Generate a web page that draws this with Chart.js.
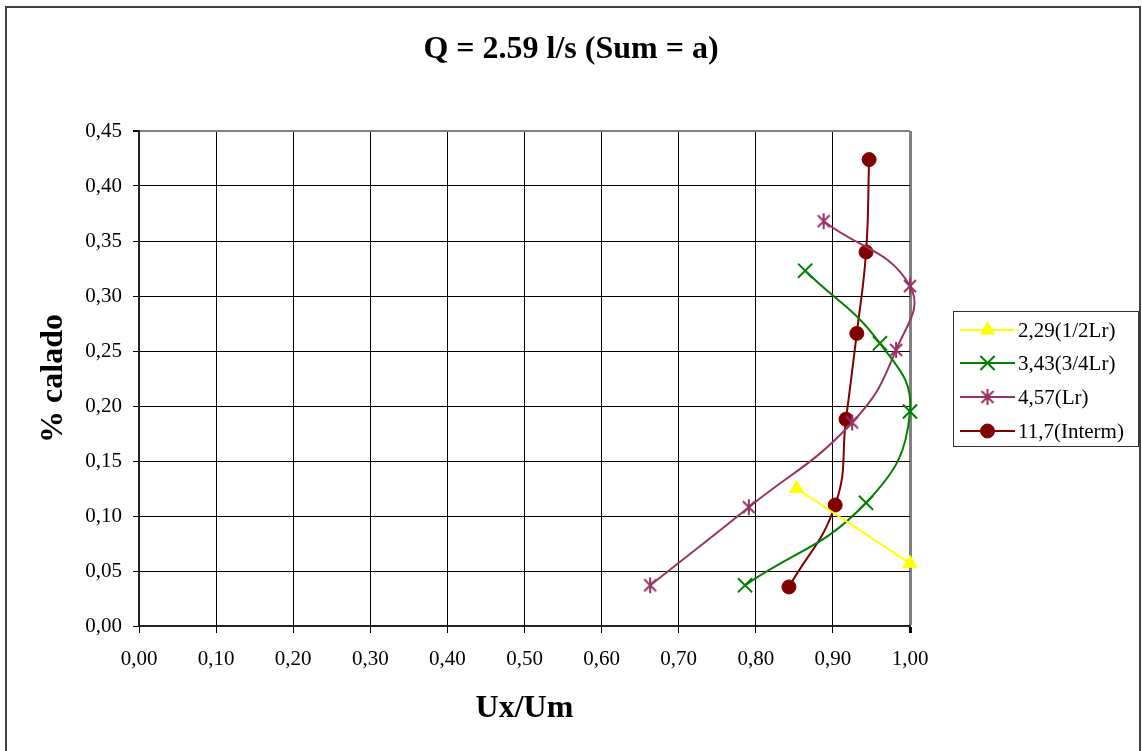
<!DOCTYPE html>
<html>
<head>
<meta charset="utf-8">
<script src="https://cdn.jsdelivr.net/npm/chart.js@4/dist/chart.umd.min.js"></script>
<style>
  body { margin: 0; background: #fff; }
  canvas { display: block; }
</style>
</head>
<body>
<canvas id="myChart" width="1142" height="751"></canvas>
<script>
// series (x = Ux/Um, y = % calado)
const seriesLabels = ['2,29(1/2Lr)', '3,43(3/4Lr)', '4,57(Lr)', '11,7(Interm)'];
const s1X = [0.853, 1.000];
const s1Y = [0.125, 0.057];
const s2X = [0.864, 0.961, 1.000, 0.943, 0.786];
const s2Y = [0.323, 0.257, 0.195, 0.112, 0.037];
const s3X = [0.888, 1.000, 0.982, 0.925, 0.791, 0.663];
const s3Y = [0.368, 0.309, 0.251, 0.185, 0.108, 0.037];
const s4X = [0.947, 0.943, 0.931, 0.917, 0.903, 0.843];
const s4Y = [0.424, 0.340, 0.266, 0.188, 0.110, 0.0355];

const chartTitle = 'Q = 2.59 l/s (Sum = a)';
const xTitle = 'Ux/Um';
const yTitle = '% calado';

const serif = '"Liberation Serif", "Times New Roman", serif';

function pts(xs, ys) {
    return xs.map((x, i) => ({ x: x, y: ys[i] }));
}

// excel style asterisk marker: an X with a vertical bar
function makeStar(color) {
    const c = document.createElement('canvas');
    c.width = 18; c.height = 18;
    const g = c.getContext('2d');
    g.strokeStyle = color;
    g.lineWidth = 2;
    g.beginPath();
    g.moveTo(3, 3); g.lineTo(15, 15);
    g.moveTo(15, 3); g.lineTo(3, 15);
    g.moveTo(9, 1); g.lineTo(9, 17);
    g.stroke();
    return c;
}

const colors = ['#FFFF00', '#008000', '#993366', '#800000'];
const styles = [
    { pointStyle: 'triangle', radius: 8, borderWidth: 1 },
    { pointStyle: 'crossRot', radius: 10, borderWidth: 2 },
    { pointStyle: makeStar(colors[2]), radius: 9, borderWidth: 2 },
    { pointStyle: 'circle', radius: 7, borderWidth: 1 }
];
const allData = [pts(s1X, s1Y), pts(s2X, s2Y), pts(s3X, s3Y), pts(s4X, s4Y)];

const datasets = allData.map((d, i) => ({
    label: seriesLabels[i],
    data: d,
    showLine: true,
    borderColor: colors[i],
    backgroundColor: colors[i],
    borderWidth: 2,
    tension: i === 0 ? 0 : 0.45,
    pointStyle: styles[i].pointStyle,
    pointRadius: styles[i].radius,
    pointHoverRadius: styles[i].radius,
    pointBorderWidth: styles[i].borderWidth,
    pointBorderColor: colors[i],
    pointBackgroundColor: colors[i],
    clip: false
}));

const fmt = v => v.toFixed(2).replace('.', ',');

const decor = {
    id: 'decor',
    afterDraw(chart) {
        const ctx = chart.ctx;
        ctx.save();
        // outer frame
        ctx.strokeStyle = '#404040';
        ctx.lineWidth = 2;
        ctx.strokeRect(6, 7, 1134, 760);
        // title
        ctx.fillStyle = '#000';
        ctx.font = 'bold 32px ' + serif;
        ctx.textAlign = 'center';
        ctx.textBaseline = 'middle';
        ctx.fillText(chartTitle, 571, 50);
        // legend
        ctx.strokeStyle = '#333';
        ctx.lineWidth = 1;
        ctx.strokeRect(953.5, 311.5, 185, 135);
        const rows = [330, 363, 397, 431];
        ctx.font = '21px ' + serif;
        ctx.textAlign = 'left';
        chart.data.datasets.forEach((ds, i) => {
            const y = rows[i];
            ctx.strokeStyle = ds.borderColor;
            ctx.fillStyle = ds.backgroundColor;
            ctx.lineWidth = 2;
            ctx.beginPath();
            ctx.moveTo(960, y);
            ctx.lineTo(1015, y);
            ctx.stroke();
            ctx.lineWidth = ds.pointBorderWidth;
            Chart.helpers.drawPoint(ctx, {
                pointStyle: ds.pointStyle,
                radius: ds.pointRadius,
                borderWidth: ds.pointBorderWidth,
                rotation: 0
            }, 987.5, y);
            ctx.fillStyle = '#000';
            ctx.fillText(ds.label, 1018, y + 1);
        });
        ctx.restore();
    }
};

const chartData = {
    type: 'scatter',
    data: { datasets: datasets },
    options: {
        responsive: false,
        animation: false,
        layout: { padding: { left: 0, top: 131, right: 232, bottom: 0 } },
        elements: { line: { capBezierPoints: false } },
        plugins: {
            legend: { display: false },
            title: { display: false },
            tooltip: { enabled: false }
        },
        scales: {
            x: {
                type: 'linear',
                min: 0,
                max: 1,
                afterFit: s => { s.height = 125; },
                ticks: {
                    stepSize: 0.1,
                    padding: 14,
                    color: '#000',
                    font: { family: serif, size: 21 },
                    callback: v => fmt(v)
                },
                grid: {
                    color: c => (c.tick && Math.abs(c.tick.value - 1) < 1e-6) ? '#808080' : '#000',
                    lineWidth: c => (c.tick && Math.abs(c.tick.value - 1) < 1e-6) ? 3 : 1,
                    tickColor: '#000',
                    tickLength: 7
                },
                border: { color: '#222', width: 2 },
                title: {
                    display: true,
                    text: xTitle,
                    color: '#000',
                    font: { family: serif, size: 32, weight: 'bold' },
                    padding: { top: 0, bottom: 23 }
                }
            },
            y: {
                type: 'linear',
                min: 0,
                max: 0.45,
                afterFit: s => { s.width = 139; },
                ticks: {
                    stepSize: 0.05,
                    padding: 11,
                    color: '#000',
                    font: { family: serif, size: 21 },
                    callback: v => fmt(v)
                },
                grid: {
                    color: c => (c.tick && Math.abs(c.tick.value - 0.45) < 1e-6) ? '#808080' : '#000',
                    lineWidth: c => (c.tick && Math.abs(c.tick.value - 0.45) < 1e-6) ? 2 : 1,
                    tickColor: '#000',
                    tickLength: 6
                },
                border: { color: '#222', width: 2 },
                title: {
                    display: true,
                    text: yTitle,
                    color: '#000',
                    font: { family: serif, size: 32, weight: 'bold' },
                    padding: { top: 35, bottom: 0 }
                }
            }
        }
    },
    plugins: [decor]
};

const ctx = document.getElementById('myChart').getContext('2d');
const myChart = new Chart(ctx, chartData);
</script>
</body>
</html>
